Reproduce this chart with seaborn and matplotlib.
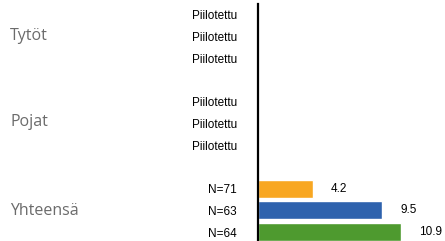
import matplotlib
matplotlib.use("Agg")
import matplotlib.pyplot as plt
import seaborn as sns
import pandas as pd

# Data
slots = ["t1", "t2", "t3", "g1", "p1", "p2", "p3", "g2", "y1", "y2", "y3"]
row_labels = ["Piilotettu", "Piilotettu", "Piilotettu", "",
              "Piilotettu", "Piilotettu", "Piilotettu", "",
              "N=71", "N=63", "N=64"]
group_names = ["Tytöt", "Pojat", "Yhteensä"]
group_centers = [0.95, 4.95, 9.05]
bar_slots = ["y1", "y2", "y3"]
bar_values = [4.2, 9.5, 10.9]
bar_colors = ["#F8A722", "#2E62AD", "#4E9A2F"]

df = pd.DataFrame({"slot": bar_slots, "value": bar_values})

sns.set_theme(style="white")
plt.rcParams["font.family"] = ["Liberation Sans", "DejaVu Sans"]

fig = plt.figure(figsize=(4.45, 2.41), dpi=100)
ax = fig.add_axes([258 / 445, -2 / 241, 1 - 258 / 445, 239 / 241])

sns.barplot(data=df, x="value", y="slot", hue="slot", order=slots,
            hue_order=bar_slots, palette=bar_colors, width=0.83,
            saturation=1, legend=False, ax=ax, orient="h")

ax.set_xlim(0, 14.3)
ax.set_ylim(10.5, -0.5)
ax.set_xlabel("")
ax.set_ylabel("")
ax.set_xticks([])
ax.set_yticks(range(len(slots)))
ax.set_yticklabels(row_labels, fontsize=8.5, color="black")
ax.tick_params(axis="y", length=0, pad=21 * 72 / 100)
for s in ["top", "right", "bottom"]:
    ax.spines[s].set_visible(False)
ax.spines["left"].set_color("black")
ax.spines["left"].set_linewidth(1.6)

for container in ax.containers:
    ax.bar_label(container, fmt="%.1f", padding=13, fontsize=8.5, color="black")

for name, c in zip(group_names, group_centers):
    ax.annotate(name, xy=(0, c), xycoords=("figure fraction", "data"),
                xytext=(10 * 72 / 100, 0), textcoords="offset points",
                ha="left", va="center", fontsize=11.5, color="#6b6b6b",
                family=["Open Sans", "DejaVu Sans"])

fig.savefig("out.png", dpi=100)
